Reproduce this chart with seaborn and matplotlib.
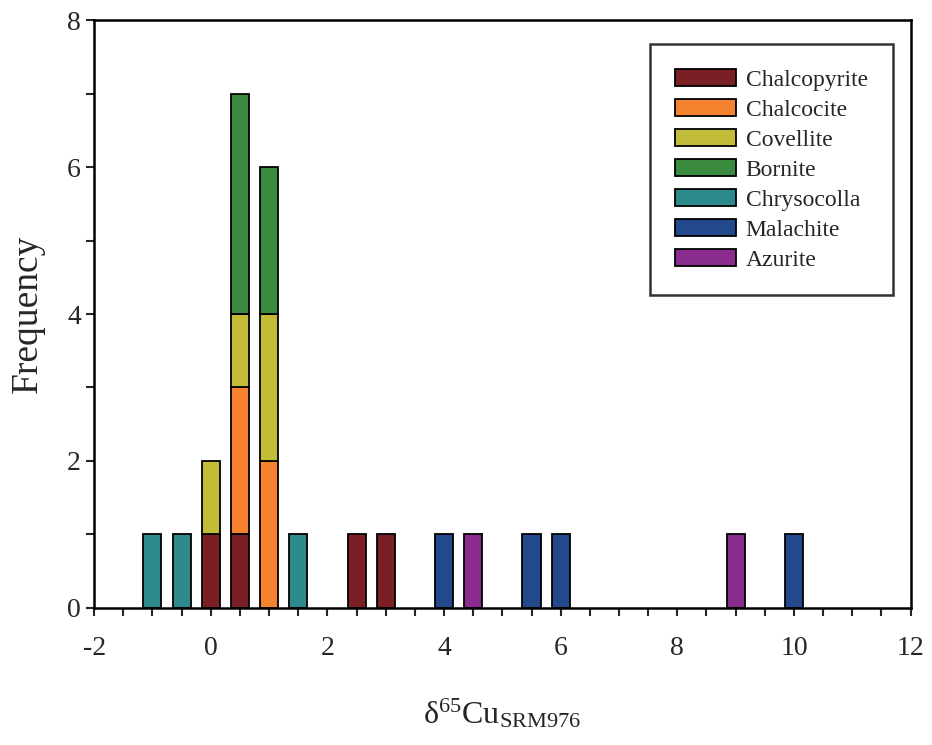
import matplotlib
matplotlib.use("Agg")
import matplotlib.pyplot as plt
import seaborn as sns
import pandas as pd
from matplotlib.ticker import MultipleLocator

# bin centre (delta 65Cu) and count for each mineral
minerals = ["Chalcopyrite", "Chalcocite", "Covellite", "Bornite",
            "Chrysocolla", "Malachite", "Azurite"]
colors = ["#7a1f24", "#f5822f", "#c2bc38", "#3a8a40", "#2c8a8c", "#23488c", "#8a2b8e"]

chalcopyrite_x = [0.0, 0.5, 2.5, 3.0]
chalcopyrite_n = [1, 1, 1, 1]
chalcocite_x = [0.5, 1.0]
chalcocite_n = [2, 2]
covellite_x = [0.0, 0.5, 1.0]
covellite_n = [1, 1, 2]
bornite_x = [0.5, 1.0]
bornite_n = [3, 2]
chrysocolla_x = [-1.0, -0.5, 1.5]
chrysocolla_n = [1, 1, 1]
malachite_x = [4.0, 5.5, 6.0, 10.0]
malachite_n = [1, 1, 1, 1]
azurite_x = [4.5, 9.0]
azurite_n = [1, 1]

series = [(chalcopyrite_x, chalcopyrite_n), (chalcocite_x, chalcocite_n),
          (covellite_x, covellite_n), (bornite_x, bornite_n),
          (chrysocolla_x, chrysocolla_n), (malachite_x, malachite_n),
          (azurite_x, azurite_n)]

rows = []
for name, (xs, ns) in zip(minerals, series):
    for x, n in zip(xs, ns):
        rows.append({"delta": x, "count": n, "mineral": name})
df = pd.DataFrame(rows)

sns.set_style("white")
plt.rcParams["font.family"] = ["Liberation Serif", "DejaVu Serif"]
plt.rcParams["axes.unicode_minus"] = False

fig = plt.figure(figsize=(9.32, 7.45), dpi=100)
ax = fig.add_axes([0.101, 0.184, 0.876, 0.789])

# seaborn stacks the first hue level on top, so reverse the order
sns.histplot(data=df, x="delta", weights="count", hue="mineral",
             hue_order=minerals[::-1], palette=colors[::-1], multiple="stack",
             binwidth=0.5, binrange=(-1.25, 10.25), shrink=0.62,
             edgecolor="black", linewidth=1.3, alpha=1, ax=ax, legend=False)

# drop the empty bins so they don't draw on the axis line
for p in list(ax.patches):
    if p.get_height() == 0:
        p.remove()

ax.set_xlim(-2, 12)
ax.set_ylim(0, 8)
ax.xaxis.set_major_locator(MultipleLocator(2))
ax.xaxis.set_minor_locator(MultipleLocator(0.5))
ax.yaxis.set_major_locator(MultipleLocator(2))
ax.yaxis.set_minor_locator(MultipleLocator(1))
ax.tick_params(axis="both", which="both", direction="out", length=6, width=1.5,
               labelsize=20, bottom=True, left=True, top=False, right=False)
ax.tick_params(axis="x", pad=14)
for s in ax.spines.values():
    s.set_linewidth(1.8)
    s.set_color("black")

ax.set_xlabel(r"$\mathregular{\delta^{65}Cu_{SRM976}}$", fontsize=23, labelpad=26)
ax.set_ylabel("Frequency", fontsize=27, labelpad=16)

handles = [plt.Rectangle((0, 0), 1, 1, facecolor=c, edgecolor="black", linewidth=1.3)
           for c in colors]
leg = ax.legend(handles, minerals, loc="upper right", bbox_to_anchor=(0.978, 0.959),
                borderaxespad=0, fontsize=17, frameon=True, fancybox=False,
                edgecolor="black", handlelength=2.6, handleheight=0.7,
                labelspacing=0.36, borderpad=1.05, handletextpad=0.4)
leg.get_frame().set_linewidth(1.8)

fig.savefig("out.png", dpi=100)
